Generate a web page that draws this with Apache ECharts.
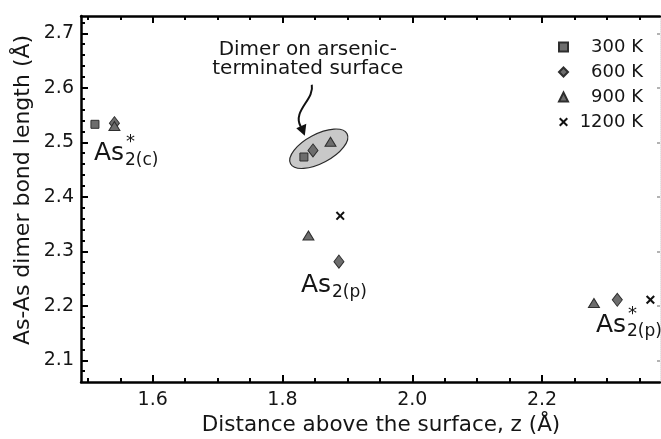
<!DOCTYPE html>
<html>
<head>
<meta charset="utf-8">
<script src="https://cdn.jsdelivr.net/npm/echarts@6/dist/echarts.min.js"></script>
<style>
  html, body { margin: 0; padding: 0; background: #fff; }
  #chart { width: 661px; height: 439px; }
</style>
</head>
<body>
<div id="chart"></div>
<script>
// Simulation temperatures (legend entries)
const temperatures = ['300 K', '600 K', '900 K', '1200 K'];

// Dimer height above the surface z (Å) and As-As bond length (Å), per temperature
const z300 = [1.511, 1.833];
const bond300 = [2.533, 2.473];
const z600 = [1.541, 1.847, 1.887, 2.316];
const bond600 = [2.535, 2.485, 2.281, 2.211];
const z900 = [1.541, 1.874, 1.840, 2.280];
const bond900 = [2.530, 2.501, 2.329, 2.205];
const z1200 = [1.889, 2.367];
const bond1200 = [2.365, 2.211];

// Axis ranges and tick positions
const xRange = [1.4895, 2.3818];
const yRange = [2.0602, 2.7317];
const xLabelTicks = [1.6, 1.8, 2.0, 2.2];
const xMinorTicks = [1.5, 1.55, 1.65, 1.7, 1.75, 1.85, 1.9, 1.95, 2.05, 2.1, 2.15, 2.25, 2.3, 2.35];
const yLabelTicks = [2.1, 2.2, 2.3, 2.4, 2.5, 2.6, 2.7];
const yMinorTicks = [2.08, 2.12, 2.14, 2.16, 2.18, 2.22, 2.24, 2.26, 2.28, 2.32, 2.34, 2.36, 2.38,
  2.42, 2.44, 2.46, 2.48, 2.52, 2.54, 2.56, 2.58, 2.62, 2.64, 2.66, 2.68, 2.72];

// Annotation texts
const clusterNote = 'Dimer on arsenic-\nterminated surface';
const axisTitleX = 'Distance above the surface, z (Å)';
const axisTitleY = 'As-As dimer bond length (Å)';

const FONT = '"DejaVu Sans", "Liberation Sans", sans-serif';
const TEXT = '#151515';
const MARK_FILL = '#6d6d6d';
const MARK_EDGE = '#2e2e2e';
const CROSS = 'path://M0,1.6L1.6,0L5,3.4L8.4,0L10,1.6L6.6,5L10,8.4L8.4,10L5,6.6L1.6,10L0,8.4L3.4,5Z';

const zip = (xs, ys) => xs.map((x, i) => [x, ys[i]]);

const chart = echarts.init(document.getElementById('chart'), null, { renderer: 'canvas' });

function valueAxis(range, extra) {
  return Object.assign({
    type: 'value',
    min: range[0],
    max: range[1],
    splitLine: { show: false },
    axisLine: { show: false },
    axisLabel: { show: false },
    axisTick: { show: false }
  }, extra);
}

const tickStyle = { color: '#000', width: 2 };
const frameLine = { show: true, onZero: false, lineStyle: { color: '#000', width: 2.5 } };

const option = {
  animation: false,
  backgroundColor: '#fff',
  grid: { left: 81, top: 16, width: 579, height: 366, containLabel: false },
  xAxis: [
    valueAxis(xRange, {
      position: 'bottom',
      axisLine: frameLine,
      axisTick: { show: true, inside: true, length: 7, lineStyle: tickStyle, customValues: xLabelTicks },
      axisLabel: {
        show: true, customValues: xLabelTicks, margin: 9,
        formatter: v => v.toFixed(1), color: TEXT, fontSize: 19, fontFamily: FONT
      }
    }),
    valueAxis(xRange, {
      position: 'bottom',
      axisTick: { show: true, inside: true, length: 4, lineStyle: tickStyle, customValues: xMinorTicks }
    }),
    valueAxis(xRange, {
      position: 'top',
      axisLine: frameLine,
      axisTick: { show: true, inside: true, length: 7, lineStyle: tickStyle, customValues: xLabelTicks }
    }),
    valueAxis(xRange, {
      position: 'top',
      axisTick: { show: true, inside: true, length: 4, lineStyle: tickStyle, customValues: xMinorTicks }
    })
  ],
  yAxis: [
    valueAxis(yRange, {
      position: 'left',
      axisLine: frameLine,
      axisTick: { show: true, inside: true, length: 7, lineStyle: tickStyle, customValues: yLabelTicks },
      axisLabel: {
        show: true, customValues: yLabelTicks, margin: 7,
        formatter: v => v.toFixed(1), color: TEXT, fontSize: 19, fontFamily: FONT
      }
    }),
    valueAxis(yRange, {
      position: 'left',
      axisTick: { show: true, inside: true, length: 4, lineStyle: tickStyle, customValues: yMinorTicks }
    }),
    valueAxis(yRange, {
      position: 'right',
      axisLine: { show: true, onZero: false, lineStyle: { color: '#e2e2e2', width: 1, type: 'dotted' } },
      axisTick: { show: true, inside: true, length: 3, lineStyle: { color: '#9a9a9a', width: 1.5 }, customValues: yLabelTicks }
    })
  ],
  legend: {
    orient: 'vertical',
    left: 558,
    top: 38,
    padding: 0,
    itemWidth: 9,
    itemHeight: 9,
    itemGap: 7,
    selectedMode: false,
    data: [
      { name: temperatures[0], icon: 'rect' },
      { name: temperatures[1], icon: 'diamond' },
      { name: temperatures[2], icon: 'triangle' },
      { name: temperatures[3], icon: CROSS }
    ],
    formatter: n => '{r|' + n + '}',
    textStyle: {
      color: TEXT, fontSize: 18, fontFamily: FONT,
      rich: { r: { width: 70, height: 18, align: 'right', fontSize: 18, fontFamily: FONT, color: TEXT } }
    }
  },
  series: [
    {
      name: temperatures[0], type: 'scatter', xAxisIndex: 0, yAxisIndex: 0,
      symbol: 'rect', symbolSize: 8,
      itemStyle: { color: MARK_FILL, borderColor: MARK_EDGE, borderWidth: 1, opacity: 1 },
      data: zip(z300, bond300), z: 5
    },
    {
      name: temperatures[1], type: 'scatter', xAxisIndex: 0, yAxisIndex: 0,
      symbol: 'diamond', symbolSize: [10, 13],
      itemStyle: { color: MARK_FILL, borderColor: MARK_EDGE, borderWidth: 1, opacity: 1 },
      data: zip(z600, bond600), z: 5
    },
    {
      name: temperatures[2], type: 'scatter', xAxisIndex: 0, yAxisIndex: 0,
      symbol: 'triangle', symbolSize: [11, 9],
      itemStyle: { color: MARK_FILL, borderColor: MARK_EDGE, borderWidth: 1, opacity: 1 },
      data: zip(z900, bond900), z: 6
    },
    {
      name: temperatures[3], type: 'scatter', xAxisIndex: 0, yAxisIndex: 0,
      symbol: CROSS, symbolSize: 9,
      itemStyle: { color: '#111', opacity: 1 },
      data: zip(z1200, bond1200), z: 5
    }
  ]
};

chart.setOption(option);

// ---- annotations placed relative to the plotted points ----
const P = (x, y) => chart.convertToPixel({ xAxisIndex: 0, yAxisIndex: 0 }, [x, y]);

function txt(x, y, text, size, extra) {
  return {
    type: 'text', silent: true, z: 20,
    style: Object.assign({
      x: x, y: y, text: text, fill: TEXT,
      font: size + 'px ' + FONT,
      align: 'left', verticalAlign: 'middle',
      textAlign: 'left', textVerticalAlign: 'middle'
    }, extra || {})
  };
}

// "As" with a subscript and an optional star, baseline at (left, base)
function chemLabel(left, base, sub, star) {
  const big = 25, small = 17;
  const els = [txt(left, base - 0.36 * big, 'As', big)];
  const subLeft = left + 31;
  els.push(txt(subLeft, base + 4 - 0.36 * small, sub, small));
  if (star) els.push(txt(subLeft + 1, base - 20, '*', 18));
  return els;
}

const graphics = [];

// Dimer cluster on the arsenic-terminated surface
const cluster = [P(z300[1], bond300[1]), P(z600[1], bond600[1]), P(z900[1], bond900[1])];
const cx = cluster.reduce((s, p) => s + p[0], 0) / cluster.length + 3;
const cy = cluster.reduce((s, p) => s + p[1], 0) / cluster.length - 1;

graphics.push({
  type: 'ellipse', silent: true, z: 1,
  x: cx, y: cy, rotation: 28 * Math.PI / 180,
  shape: { cx: 0, cy: 0, rx: 32, ry: 14.5 },
  style: { fill: '#c8c8c8', stroke: '#2a2a2a', lineWidth: 1.2 }
});

graphics.push({
  type: 'bezierCurve', silent: true, z: 20,
  shape: {
    x1: cx - 7, y1: cy - 64,
    cpx1: cx - 4, cpy1: cy - 49,
    cpx2: cx - 27, cpy2: cy - 38,
    x2: cx - 18, y2: cy - 22
  },
  style: { stroke: '#111', lineWidth: 2, fill: null }
});
graphics.push({
  type: 'polygon', silent: true, z: 20,
  shape: { points: [[cx - 14, cy - 13], [cx - 12.5, cy - 25], [cx - 22.5, cy - 20.5]] },
  style: { fill: '#111' }
});
graphics.push(txt(cx - 11, cy - 89.5, clusterNote, 20, { align: 'center', textAlign: 'center', lineHeight: 19 }));

// Species labels
const pc = P(z300[0], bond300[0]);
graphics.push(...chemLabel(pc[0] - 1, pc[1] + 38, '2(c)', true));
const pp = P(z600[2], bond600[2]);
graphics.push(...chemLabel(pp[0] - 38, pp[1] + 33, '2(p)', false));
const ps = P(z900[3], bond900[3]);
graphics.push(...chemLabel(ps[0] + 2, ps[1] + 31, '2(p)', true));

// Axis titles
graphics.push(txt(381, 425, axisTitleX, 21.5, { align: 'center', textAlign: 'center' }));
graphics.push({
  type: 'text', silent: true, z: 20,
  x: 23, y: 190, rotation: Math.PI / 2,
  style: {
    x: 0, y: 0, text: axisTitleY, fill: TEXT, font: '22px ' + FONT,
    align: 'center', verticalAlign: 'middle', textAlign: 'center', textVerticalAlign: 'middle'
  }
});

chart.setOption({ graphic: { elements: graphics } });
</script>
</body>
</html>
